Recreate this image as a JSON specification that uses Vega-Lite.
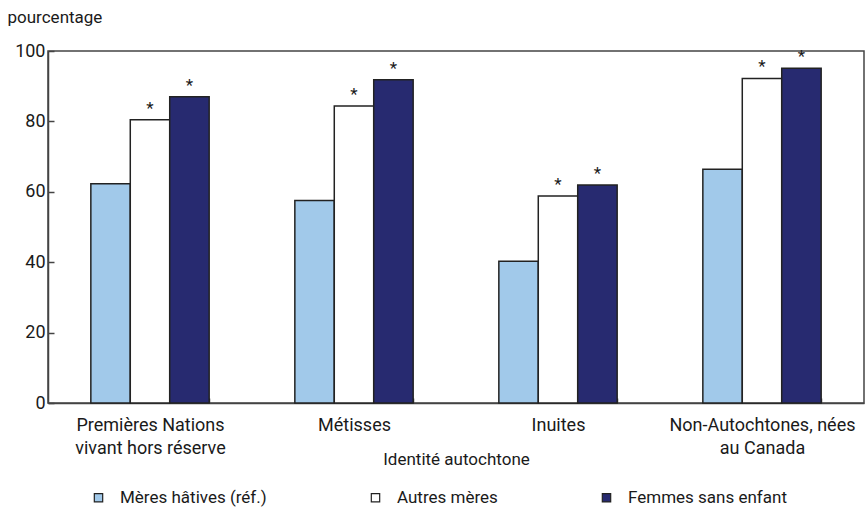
{
  "$schema": "https://vega.github.io/schema/vega-lite/v6.json",
  "width": 816,
  "height": 352,
  "autosize": {"type": "none"},
  "padding": {"left": 48, "top": 51, "right": 2, "bottom": 105},
  "background": "white",
  "config": {
    "font": "Roboto",
    "view": {"stroke": "#444", "strokeWidth": 1.5},
    "axis": {
      "labelFont": "Roboto",
      "titleFont": "Roboto",
      "labelColor": "#1a1a1a",
      "titleColor": "#1a1a1a",
      "labelFontSize": 16,
      "titleFontSize": 16,
      "titleFontWeight": "normal",
      "domainColor": "#444",
      "domainWidth": 1.5,
      "tickColor": "#444",
      "tickWidth": 1.5,
      "grid": false
    },
    "legend": {
      "labelFont": "Roboto",
      "labelFontSize": 17,
      "labelColor": "#1a1a1a",
      "labelLimit": 300
    }
  },
  "data": {
    "values": [
      {"groupe": "Premières Nations vivant hors réserve", "serie": "Mères hâtives (réf.)", "pct": 62.3, "sig": ""},
      {"groupe": "Premières Nations vivant hors réserve", "serie": "Autres mères", "pct": 80.5, "sig": "*"},
      {"groupe": "Premières Nations vivant hors réserve", "serie": "Femmes sans enfant", "pct": 87.0, "sig": "*"},
      {"groupe": "Métisses", "serie": "Mères hâtives (réf.)", "pct": 57.5, "sig": ""},
      {"groupe": "Métisses", "serie": "Autres mères", "pct": 84.4, "sig": "*"},
      {"groupe": "Métisses", "serie": "Femmes sans enfant", "pct": 91.8, "sig": "*"},
      {"groupe": "Inuites", "serie": "Mères hâtives (réf.)", "pct": 40.3, "sig": ""},
      {"groupe": "Inuites", "serie": "Autres mères", "pct": 58.8, "sig": "*"},
      {"groupe": "Inuites", "serie": "Femmes sans enfant", "pct": 61.9, "sig": "*"},
      {"groupe": "Non-Autochtones, nées au Canada", "serie": "Mères hâtives (réf.)", "pct": 66.4, "sig": ""},
      {"groupe": "Non-Autochtones, nées au Canada", "serie": "Autres mères", "pct": 92.2, "sig": "*"},
      {"groupe": "Non-Autochtones, nées au Canada", "serie": "Femmes sans enfant", "pct": 95.1, "sig": "*"}
    ]
  },
  "encoding": {
    "x": {
      "field": "groupe",
      "type": "nominal",
      "sort": ["Premières Nations vivant hors réserve", "Métisses", "Inuites", "Non-Autochtones, nées au Canada"],
      "scale": {"paddingInner": 0.42, "paddingOuter": 0.21},
      "axis": {
        "title": "Identité autochtone",
        "labelAngle": 0,
        "labelFontSize": 18,
        "labelLimit": 300,
        "titleFontSize": 17,
        "tickBand": "extent",
        "tickSize": -5,
        "labelPadding": 18,
        "labelLineHeight": 23,
        "titlePadding": -6,
        "labelExpr": "datum.value == 'Premières Nations vivant hors réserve' ? ['Premières Nations', 'vivant hors réserve'] : datum.value == 'Non-Autochtones, nées au Canada' ? ['Non-Autochtones, nées', 'au Canada'] : datum.value"
      }
    },
    "xOffset": {
      "field": "serie",
      "type": "nominal",
      "sort": ["Mères hâtives (réf.)", "Autres mères", "Femmes sans enfant"],
      "scale": {"paddingInner": 0, "paddingOuter": 0}
    },
    "y": {
      "field": "pct",
      "type": "quantitative",
      "scale": {"domain": [0, 100], "nice": false},
      "axis": {
        "values": [0, 20, 40, 60, 80, 100],
        "tickSize": -6,
        "labelPadding": 9,
        "labelFontSize": 18,
        "title": "pourcentage",
        "titleAngle": 0,
        "titleAlign": "left",
        "titleBaseline": "middle",
        "titleX": -41,
        "titleY": -34,
        "titleFontSize": 17
      }
    }
  },
  "layer": [
    {
      "mark": {"type": "bar", "stroke": "#222", "strokeWidth": 1.5},
      "encoding": {
        "fill": {
          "field": "serie",
          "type": "nominal",
          "sort": ["Mères hâtives (réf.)", "Autres mères", "Femmes sans enfant"],
          "scale": {
            "domain": ["Mères hâtives (réf.)", "Autres mères", "Femmes sans enfant"],
            "range": ["#A1C9EA", "#FFFFFF", "#272A70"]
          },
          "legend": {
            "title": null,
            "orient": "none",
            "direction": "horizontal",
            "columns": 3,
            "legendX": 42,
            "legendY": 438,
            "padding": 0,
            "symbolType": "square",
            "symbolSize": 70,
            "symbolStrokeColor": "#222",
            "symbolStrokeWidth": 1.2,
            "labelOffset": 13,
            "columnPadding": 100
          }
        }
      }
    },
    {
      "mark": {"type": "text", "dy": -11, "fontSize": 17, "color": "#1a1a1a", "baseline": "middle"},
      "encoding": {
        "text": {"field": "sig"}
      }
    }
  ]
}
